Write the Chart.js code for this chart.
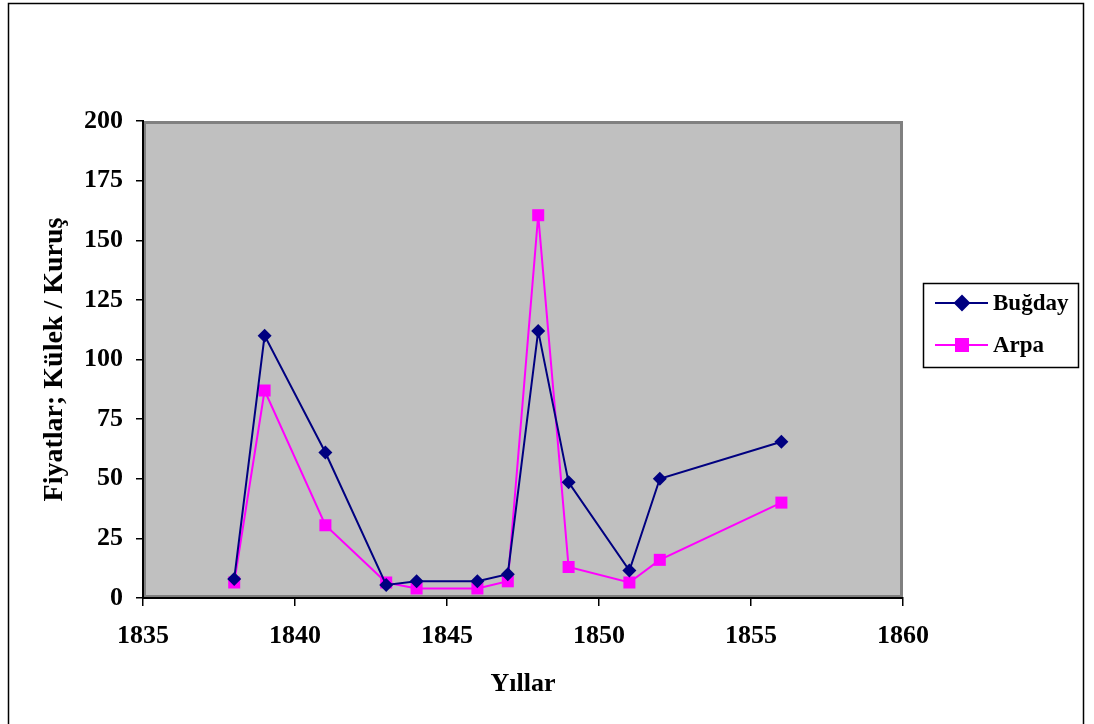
<!DOCTYPE html>
<html>
<head>
<meta charset="utf-8">
<script src="https://cdn.jsdelivr.net/npm/chart.js@4/dist/chart.umd.min.js"></script>
<style>
  html, body { margin: 0; padding: 0; background: #fff; }
  canvas { display: block; }
</style>
</head>
<body>
<canvas id="chart" width="1094" height="724"></canvas>
<script>
const years = [1838, 1839, 1841, 1843, 1844, 1846, 1847, 1848, 1849, 1851, 1852, 1856];
const bugday = [8, 110, 61, 5.5, 7, 7, 10, 112, 48.5, 11.5, 50, 65.5];
const arpa = [6.5, 87, 30.5, 6.5, 4, 4, 7, 160.5, 13, 6.5, 16, 40];
const seriesNames = ['Buğday', 'Arpa'];
const xTitle = 'Yıllar';
const yTitle = 'Fiyatlar; Külek / Kuruş';

const font = 'Liberation Serif, Times New Roman, serif';
const pts = vals => years.map((x, i) => ({x, y: vals[i]}));

// grey plot box + outer frame
const frame = {
  id: 'frame',
  beforeDraw(chart) {
    const {ctx, chartArea: a} = chart;
    ctx.save();
    ctx.strokeStyle = '#000';
    ctx.lineWidth = 1.5;
    ctx.beginPath();
    ctx.moveTo(8.5, 730); ctx.lineTo(8.5, 3.5); ctx.lineTo(1083.5, 3.5); ctx.lineTo(1083.5, 730);
    ctx.stroke();
    ctx.fillStyle = '#c0c0c0';
    ctx.fillRect(a.left, a.top, a.right - a.left, a.bottom - a.top);
    ctx.strokeStyle = '#808080';
    ctx.lineWidth = 3;
    ctx.strokeRect(a.left + 1.5, a.top + 1.5, a.right - a.left - 3, a.bottom - a.top - 3);
    ctx.restore();
  }
};

// legend with line + marker, boxed
const boxLegend = {
  id: 'boxLegend',
  afterDraw(chart) {
    const {ctx} = chart;
    const left = 923, top = 283, w = 155, h = 84;
    ctx.save();
    ctx.fillStyle = '#fff';
    ctx.fillRect(left, top, w, h);
    ctx.strokeStyle = '#000';
    ctx.lineWidth = 1.5;
    ctx.strokeRect(left + 0.5, top + 0.5, w, h);
    chart.data.datasets.forEach((ds, i) => {
      const y = top + 20 + i * 42;
      ctx.strokeStyle = ds.borderColor;
      ctx.lineWidth = ds.borderWidth;
      ctx.beginPath();
      ctx.moveTo(935, y); ctx.lineTo(988, y);
      ctx.stroke();
      Chart.helpers.drawPoint(ctx, {pointStyle: ds.pointStyle, radius: ds.pointRadius, rotation: 0, borderWidth: 1}, 962, y);
      ctx.fillStyle = ds.pointBackgroundColor;
      ctx.fill();
      ctx.fillStyle = '#000';
      ctx.font = 'bold 23px ' + font;
      ctx.textBaseline = 'middle';
      ctx.fillText(ds.label, 993, y + 1);
    });
    ctx.restore();
  }
};

new Chart(document.getElementById('chart'), {
  type: 'scatter',
  data: {
    datasets: [
      {
        label: seriesNames[0], data: pts(bugday), showLine: true,
        borderColor: '#000080', backgroundColor: '#000080', pointBackgroundColor: '#000080',
        borderWidth: 2, pointStyle: 'rectRot', pointRadius: 7, pointBorderWidth: 0
      },
      {
        label: seriesNames[1], data: pts(arpa), showLine: true,
        borderColor: '#ff00ff', backgroundColor: '#ff00ff', pointBackgroundColor: '#ff00ff',
        borderWidth: 2, pointStyle: 'rect', pointRadius: 8.5, pointBorderWidth: 0
      }
    ]
  },
  options: {
    responsive: false,
    animation: false,
    devicePixelRatio: 1,
    layout: {padding: {left: 8, right: 191, top: 121, bottom: 0}},
    plugins: {legend: {display: false}, tooltip: {enabled: false}},
    scales: {
      x: {
        type: 'linear', min: 1835, max: 1860,
        afterFit: s => { s.height = 126; },
        ticks: {stepSize: 5, color: '#000', padding: 15, font: {family: font, size: 26, weight: 'bold'}, callback: v => String(v)},
        grid: {drawOnChartArea: false, tickLength: 8, color: '#000', lineWidth: 1.5},
        border: {color: '#000', width: 2},
        title: {display: true, text: xTitle, color: '#000', padding: {top: 0, bottom: 24}, font: {family: font, size: 26, weight: 'bold'}}
      },
      y: {
        min: 0, max: 200,
        afterFit: s => { s.width = 135; },
        ticks: {stepSize: 25, color: '#000', padding: 13, font: {family: font, size: 26, weight: 'bold'}},
        grid: {drawOnChartArea: false, tickLength: 7, color: '#000', lineWidth: 1.5},
        border: {color: '#000', width: 2},
        title: {display: true, text: yTitle, color: '#000', padding: {top: 30, bottom: 0}, font: {family: font, size: 28, weight: 'bold'}}
      }
    }
  },
  plugins: [frame, boxLegend]
});
</script>
</body>
</html>
